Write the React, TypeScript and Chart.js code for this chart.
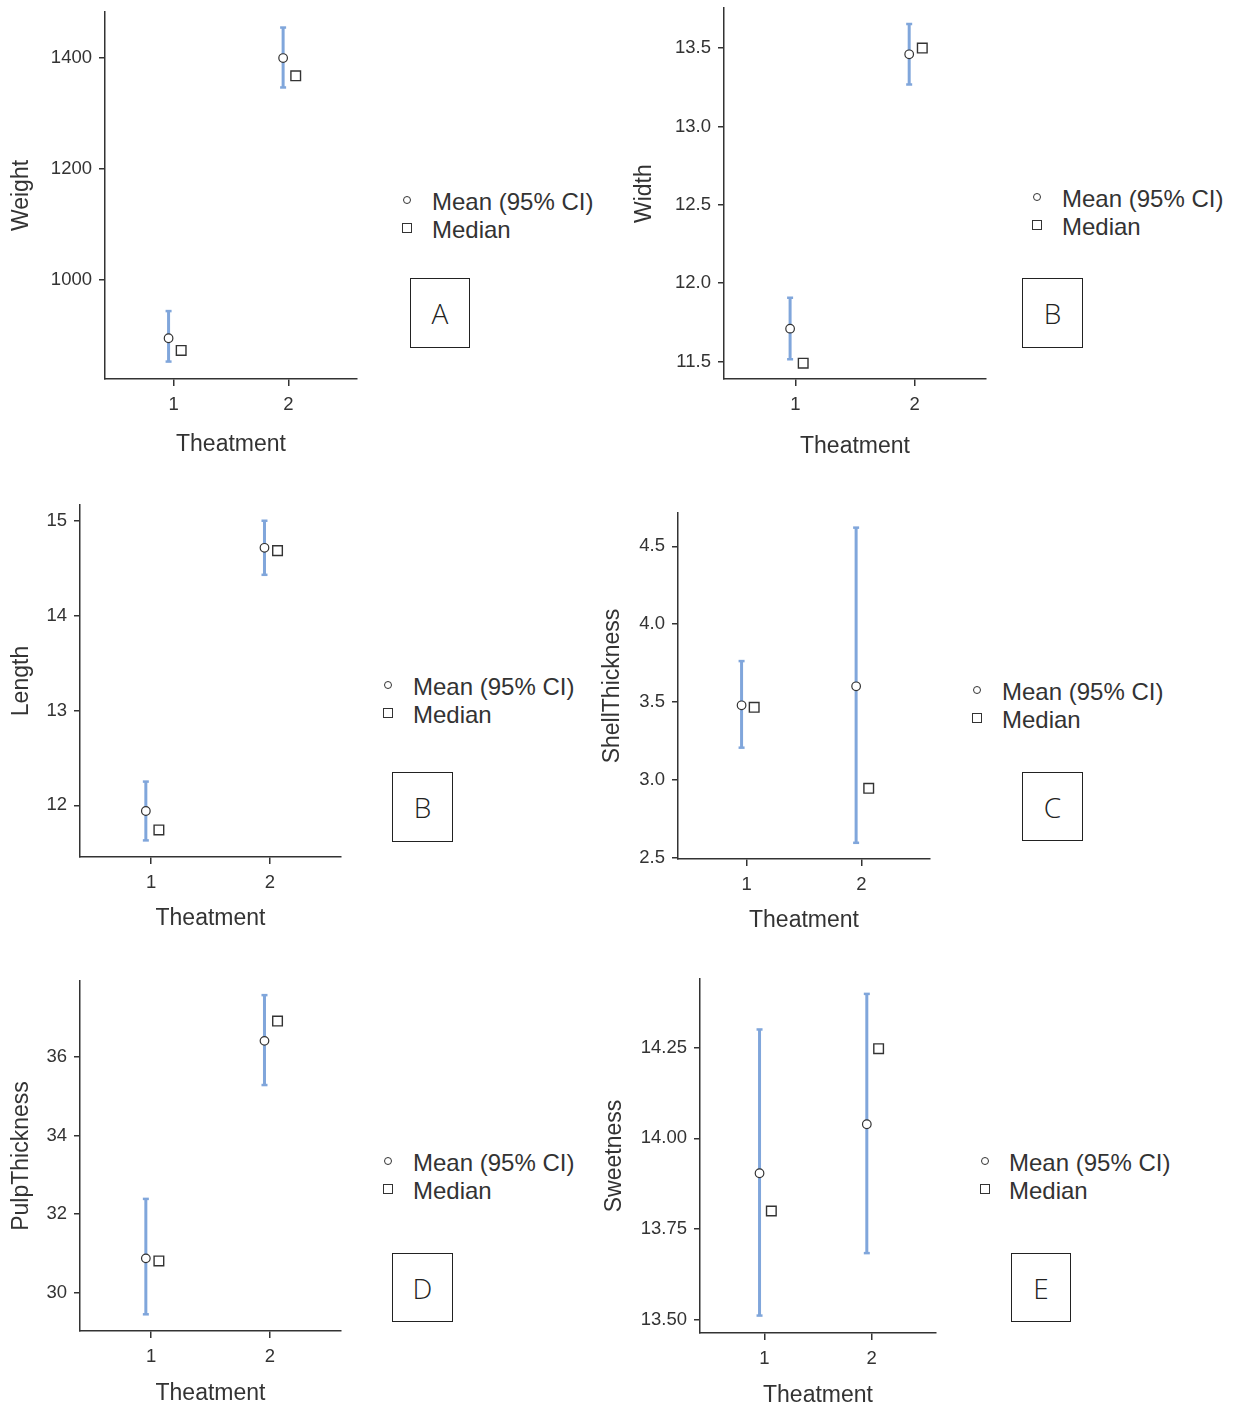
import React, { useEffect, useRef } from 'react';
import { Chart, registerables } from 'chart.js';

Chart.register(...registerables);

// ---------- data ----------
const treatments = [1, 2];
const treatmentTicks = [1, 2];
const xTitle = 'Theatment';
const legendLabels = ['Mean (95% CI)', 'Median'];

// A: Weight
const weightMean = [895, 1400];
const weightLow = [853, 1347];
const weightHigh = [944, 1455];
const weightMedian = [873, 1368];
const weightTicks = [1000, 1200, 1400];

// B: Width
const widthMean = [11.71, 13.46];
const widthLow = [11.515, 13.267];
const widthHigh = [11.907, 13.653];
const widthMedian = [11.49, 13.5];
const widthTicks = [11.5, 12.0, 12.5, 13.0, 13.5];

// B: Length
const lengthMean = [11.94, 14.715];
const lengthLow = [11.63, 14.43];
const lengthHigh = [12.25, 15.0];
const lengthMedian = [11.74, 14.685];
const lengthTicks = [12, 13, 14, 15];

// C: ShellThickness
const shellMean = [3.479, 3.601];
const shellLow = [3.207, 2.596];
const shellHigh = [3.763, 4.62];
const shellMedian = [3.466, 2.946];
const shellTicks = [2.5, 3.0, 3.5, 4.0, 4.5];

// D: PulpThickness
const pulpMean = [30.875, 36.415];
const pulpLow = [29.45, 35.29];
const pulpHigh = [32.39, 37.58];
const pulpMedian = [30.81, 36.92];
const pulpTicks = [30, 32, 34, 36];

// E: Sweetness
const sweetMean = [13.904, 14.039];
const sweetLow = [13.512, 13.684];
const sweetHigh = [14.3, 14.398];
const sweetMedian = [13.8, 14.247];
const sweetTicks = [13.5, 13.75, 14.0, 14.25];

// ---------- style ----------
const BLUE = '#80a6db';
const INK = '#333333';
const FONT = "'Liberation Sans', Arial, Helvetica, sans-serif";
const MEAN_OFFSET = -0.045;
const MEDIAN_OFFSET = 0.065;
const X_MIN = 0.4;
const X_MAX = 2.6;
const TICK_SIZE = 18.5;
const TITLE_SIZE = 23;
const LEGEND_SIZE = 24;

type Rect = { l: number; t: number; r: number; b: number };
type Panel = {
  yTitle: string;
  letter: string;
  mean: number[];
  low: number[];
  high: number[];
  median: number[];
  yTicks: number[];
  decimals: number;
  yMin: number;
  yMax: number;
  canvas: { left: number; top: number; w: number; h: number };
  area: Rect;
  yTitleX: number;
  xTitleY: number;
  legend: { cx: number; cy: number; tx: number };
  box: Rect;
};

const panels: Panel[] = [
  {
    yTitle: 'Weight', letter: 'A',
    mean: weightMean, low: weightLow, high: weightHigh, median: weightMedian,
    yTicks: weightTicks, decimals: 0, yMin: 821.6, yMax: 1483,
    canvas: { left: 0, top: 0, w: 385, h: 470 },
    area: { l: 105, t: 12, r: 357, b: 379 },
    yTitleX: 22, xTitleY: 445,
    legend: { cx: 407, cy: 200, tx: 432 },
    box: { l: 410, t: 278, r: 470, b: 348 },
  },
  {
    yTitle: 'Width', letter: 'B',
    mean: widthMean, low: widthLow, high: widthHigh, median: widthMedian,
    yTicks: widthTicks, decimals: 1, yMin: 11.389, yMax: 13.754,
    canvas: { left: 620, top: 0, w: 385, h: 470 },
    area: { l: 724, t: 4, r: 986, b: 379 },
    yTitleX: 645, xTitleY: 447,
    legend: { cx: 1037, cy: 197, tx: 1062 },
    box: { l: 1022, t: 278, r: 1083, b: 348 },
  },
  {
    yTitle: 'Length', letter: 'B',
    mean: lengthMean, low: lengthLow, high: lengthHigh, median: lengthMedian,
    yTicks: lengthTicks, decimals: 0, yMin: 11.455, yMax: 15.166,
    canvas: { left: 0, top: 490, w: 370, h: 460 },
    area: { l: 80, t: 505, r: 341, b: 857 },
    yTitleX: 22, xTitleY: 919,
    legend: { cx: 388, cy: 685, tx: 413 },
    box: { l: 392, t: 772, r: 453, b: 842 },
  },
  {
    yTitle: 'ShellThickness', letter: 'C',
    mean: shellMean, low: shellLow, high: shellHigh, median: shellMedian,
    yTicks: shellTicks, decimals: 1, yMin: 2.492, yMax: 4.714,
    canvas: { left: 590, top: 490, w: 370, h: 460 },
    area: { l: 678, t: 513, r: 930, b: 859 },
    yTitleX: 613, xTitleY: 921,
    legend: { cx: 977, cy: 690, tx: 1002 },
    box: { l: 1022, t: 772, r: 1083, b: 841 },
  },
  {
    yTitle: 'PulpThickness', letter: 'D',
    mean: pulpMean, low: pulpLow, high: pulpHigh, median: pulpMedian,
    yTicks: pulpTicks, decimals: 0, yMin: 29.025, yMax: 37.94,
    canvas: { left: 0, top: 960, w: 370, h: 452 },
    area: { l: 80, t: 981, r: 341, b: 1331 },
    yTitleX: 22, xTitleY: 1394,
    legend: { cx: 388, cy: 1161, tx: 413 },
    box: { l: 392, t: 1253, r: 453, b: 1322 },
  },
  {
    yTitle: 'Sweetness', letter: 'E',
    mean: sweetMean, low: sweetLow, high: sweetHigh, median: sweetMedian,
    yTicks: sweetTicks, decimals: 2, yMin: 13.464, yMax: 14.439,
    canvas: { left: 590, top: 960, w: 370, h: 452 },
    area: { l: 700, t: 979, r: 936, b: 1333 },
    yTitleX: 615, xTitleY: 1396,
    legend: { cx: 985, cy: 1161, tx: 1009 },
    box: { l: 1011, t: 1253, r: 1071, b: 1322 },
  },
];

function PanelChart({ p }: { p: Panel }) {
  const ref = useRef<HTMLCanvasElement>(null);
  const cv = p.canvas;
  const ca = p.area;
  useEffect(() => {
    const c = ref.current;
    if (!c) return;
    const lh = TITLE_SIZE * 1.2;
    const errData: any[] = [];
    treatments.forEach((t, i) => {
      if (i > 0) errData.push({ x: t - 0.5, y: null });
      errData.push({ x: t + MEAN_OFFSET, y: p.low[i] });
      errData.push({ x: t + MEAN_OFFSET, y: p.high[i] });
    });
    const yWidth = ca.l - cv.left;
    const xHeight = cv.top + cv.h - ca.b;
    const yTitlePad = p.yTitleX - cv.left - lh / 2;
    const xTitlePad = cv.top + cv.h - lh / 2 - p.xTitleY;
    const chart = new Chart(c, {
      type: 'scatter',
      data: {
        datasets: [
          {
            label: legendLabels[0],
            data: treatments.map((t, i) => ({ x: t + MEAN_OFFSET, y: p.mean[i] })),
            pointStyle: 'circle',
            pointRadius: 4.3,
            pointHoverRadius: 4.3,
            pointBackgroundColor: '#ffffff',
            pointBorderColor: INK,
            pointBorderWidth: 1.2,
            order: 1,
          },
          {
            label: legendLabels[1],
            data: treatments.map((t, i) => ({ x: t + MEDIAN_OFFSET, y: p.median[i] })),
            pointStyle: 'rect',
            pointRadius: 6.8,
            pointHoverRadius: 6.8,
            pointBackgroundColor: '#ffffff',
            pointBorderColor: INK,
            pointBorderWidth: 1.4,
            order: 2,
          },
          {
            label: 'CI',
            data: errData,
            showLine: true,
            spanGaps: false,
            borderColor: BLUE,
            borderWidth: 3,
            pointStyle: 'line',
            pointRadius: 3,
            pointHoverRadius: 3,
            pointBorderColor: BLUE,
            pointBorderWidth: 2.5,
            order: 3,
          },
        ] as any,
      },
      options: {
        animation: false,
        responsive: false,
        maintainAspectRatio: false,
        events: [],
        layout: {
          padding: { top: ca.t - cv.top, right: cv.left + cv.w - ca.r, left: 0, bottom: 0 },
        },
        plugins: { legend: { display: false }, tooltip: { enabled: false } },
        scales: {
          x: {
            type: 'linear',
            min: X_MIN,
            max: X_MAX,
            afterBuildTicks: (s: any) => {
              s.ticks = treatmentTicks.map((v) => ({ value: v }));
            },
            afterFit: (s: any) => {
              s.height = xHeight;
              s.paddingLeft = 0;
              s.paddingRight = 0;
            },
            ticks: {
              font: { family: FONT, size: TICK_SIZE },
              color: INK,
              padding: 8,
              autoSkip: false,
              maxRotation: 0,
              callback: (v: any) => String(v),
            },
            grid: {
              display: true,
              drawOnChartArea: false,
              drawTicks: true,
              tickLength: 7,
              color: INK,
              tickColor: INK,
              lineWidth: 1.5,
              tickWidth: 1.5,
            },
            border: { display: true, color: INK, width: 1.5 },
            title: {
              display: true,
              text: xTitle,
              color: INK,
              font: { family: FONT, size: TITLE_SIZE },
              padding: { top: 0, bottom: xTitlePad },
            },
          },
          y: {
            type: 'linear',
            min: p.yMin,
            max: p.yMax,
            afterBuildTicks: (s: any) => {
              s.ticks = p.yTicks.map((v) => ({ value: v }));
            },
            afterFit: (s: any) => {
              s.width = yWidth;
              s.paddingTop = 0;
              s.paddingBottom = 0;
            },
            ticks: {
              font: { family: FONT, size: TICK_SIZE },
              color: INK,
              padding: 7,
              autoSkip: false,
              callback: (v: any) => Number(v).toFixed(p.decimals),
            },
            grid: {
              display: true,
              drawOnChartArea: false,
              drawTicks: true,
              tickLength: 6,
              color: INK,
              tickColor: INK,
              lineWidth: 1.5,
              tickWidth: 1.5,
            },
            border: { display: true, color: INK, width: 1.5 },
            title: {
              display: true,
              text: p.yTitle,
              color: INK,
              font: { family: FONT, size: TITLE_SIZE },
              padding: { top: yTitlePad, bottom: 0 },
            },
          },
        },
      } as any,
    });
    return () => chart.destroy();
  }, []);
  return (
    <canvas
      ref={ref}
      width={cv.w}
      height={cv.h}
      style={{ position: 'absolute', left: cv.left, top: cv.top, width: cv.w, height: cv.h }}
    />
  );
}

function Legend({ p }: { p: Panel }) {
  const { cx, cy, tx } = p.legend;
  const rowGap = 28;
  const textStyle: React.CSSProperties = {
    position: 'absolute',
    left: tx,
    fontFamily: FONT,
    fontSize: LEGEND_SIZE,
    lineHeight: '28px',
    color: INK,
    whiteSpace: 'nowrap',
  };
  return (
    <>
      <div
        style={{
          position: 'absolute', left: cx - 4, top: cy - 4, width: 8, height: 8,
          boxSizing: 'border-box', border: `1.2px solid ${INK}`, borderRadius: '50%', background: '#fff',
        }}
      />
      <div style={{ ...textStyle, top: cy - 12 }}>{legendLabels[0]}</div>
      <div
        style={{
          position: 'absolute', left: cx - 5, top: cy + rowGap - 5, width: 10, height: 10,
          boxSizing: 'border-box', border: `1.3px solid ${INK}`, background: '#fff',
        }}
      />
      <div style={{ ...textStyle, top: cy + rowGap - 12 }}>{legendLabels[1]}</div>
    </>
  );
}

function LetterBox({ p }: { p: Panel }) {
  const b = p.box;
  return (
    <div
      style={{
        position: 'absolute', left: b.l, top: b.t, width: b.r - b.l, height: b.b - b.t,
        boxSizing: 'border-box', border: '1.6px solid #222', background: '#fff',
        display: 'flex', alignItems: 'center', justifyContent: 'center',
        fontFamily: "'Open Sans', 'DejaVu Sans', sans-serif", fontWeight: 300,
        fontSize: 28, color: '#222',
      }}
    >
      {p.letter}
    </div>
  );
}

export default function App() {
  return (
    <div
      style={{
        position: 'absolute', left: 0, top: 0, width: 1238, height: 1412,
        background: '#ffffff', overflow: 'hidden',
      }}
    >
      {panels.map((p, i) => (
        <React.Fragment key={i}>
          <PanelChart p={p} />
          <Legend p={p} />
          <LetterBox p={p} />
        </React.Fragment>
      ))}
    </div>
  );
}
